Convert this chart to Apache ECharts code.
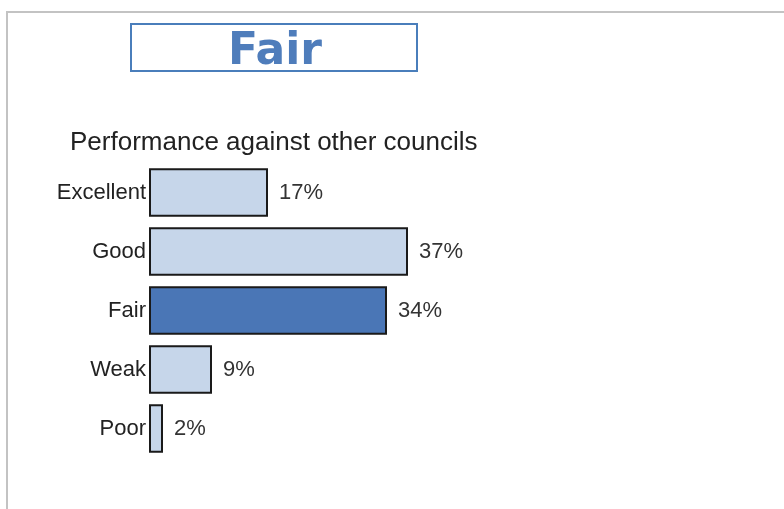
<!DOCTYPE html>
<html>
<head>
<meta charset="utf-8">
<script src="https://cdn.jsdelivr.net/npm/echarts@6/dist/echarts.min.js"></script>
<style>
    html, body { margin: 0; padding: 0; background: #fff; }
    #chart { width: 784px; height: 509px; }
</style>
</head>
<body>
<div id="chart"></div>
<script>
    var categories = ['Excellent', 'Good', 'Fair', 'Weak', 'Poor'];
    var values = [17, 37, 34, 9, 2];
    var rating = 'Fair';
    var subtitle = 'Performance against other councils';

    var lightColor = '#c6d6ea';
    var darkColor = '#4a76b6';

    var myChart = echarts.init(document.getElementById('chart'));

    var barData = values.map(function (v, i) {
        return {
            value: v,
            itemStyle: {
                color: categories[i] === rating ? darkColor : lightColor
            }
        };
    });

    var option = {
        backgroundColor: '#fff',
        animation: false,
        title: {
            text: subtitle,
            left: 70,
            top: 130,
            padding: 0,
            textStyle: {
                color: '#222',
                fontSize: 26,
                fontWeight: 'normal',
                fontFamily: 'Liberation Sans'
            }
        },
        graphic: [
            // frame lines
            { type: 'line', shape: { x1: 6, y1: 12, x2: 784, y2: 12 }, style: { stroke: '#c3c3c3', lineWidth: 2 } },
            { type: 'line', shape: { x1: 7, y1: 12, x2: 7, y2: 509 }, style: { stroke: '#c3c3c3', lineWidth: 2 } },
            // rating box
            {
                type: 'rect',
                shape: { x: 131, y: 24, width: 286, height: 47 },
                style: { fill: '#fff', stroke: '#4a7ebb', lineWidth: 2 }
            },
            {
                type: 'text',
                x: 275,
                y: 53,
                style: {
                    text: rating,
                    fill: '#4f7dbb',
                    font: 'bold 44px "DejaVu Sans"',
                    align: 'center',
                    verticalAlign: 'middle'
                }
            }
        ],
        grid: {
            left: 149,
            top: 163,
            width: 350,
            height: 295
        },
        xAxis: {
            type: 'value',
            min: 0,
            max: 50,
            show: false
        },
        yAxis: {
            type: 'category',
            data: categories,
            inverse: true,
            axisLine: { show: false },
            axisTick: { show: false },
            axisLabel: {
                margin: 3,
                color: '#222',
                fontSize: 22,
                fontFamily: 'Liberation Sans'
            }
        },
        series: [{
            type: 'bar',
            data: barData,
            barCategoryGap: '18%',
            itemStyle: {
                borderColor: '#1a1a1a',
                borderWidth: 2
            },
            label: {
                show: true,
                position: 'right',
                distance: 11,
                formatter: '{c}%',
                color: '#333',
                fontSize: 22,
                fontFamily: 'Liberation Sans'
            }
        }]
    };

    myChart.setOption(option);
</script>
</body>
</html>
